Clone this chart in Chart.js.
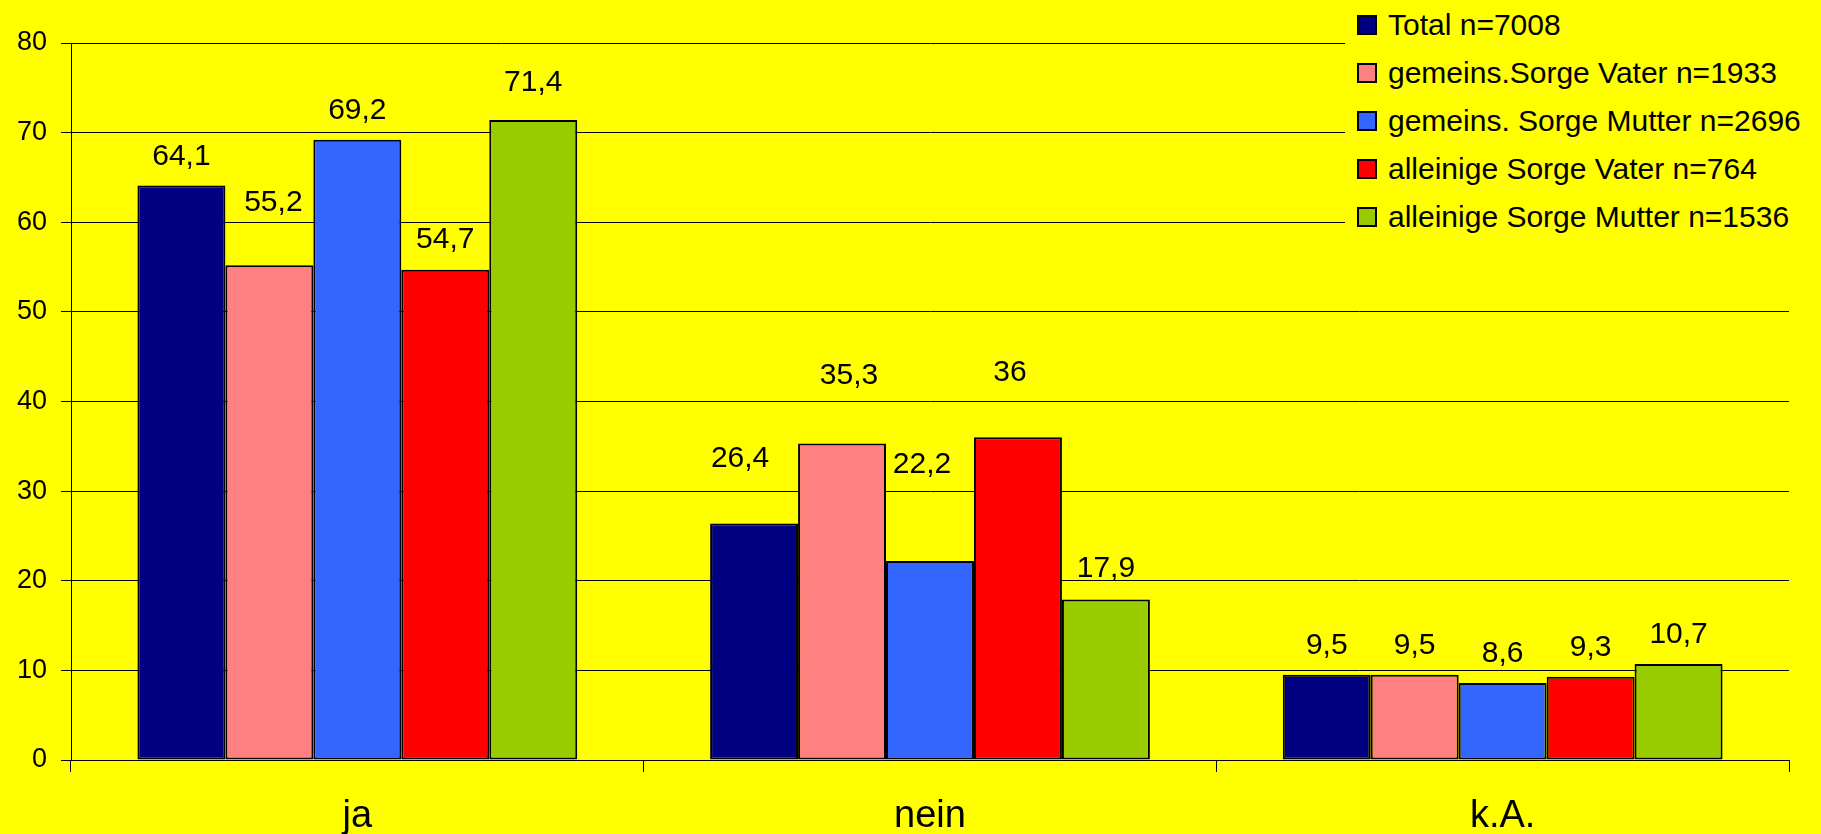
<!DOCTYPE html>
<html>
<head>
<meta charset="utf-8">
<script src="https://cdn.jsdelivr.net/npm/chart.js@4"></script>
<style>
  body { margin: 0; background: #FFFF00; font-family: "Liberation Sans", Arial, sans-serif; }
  #wrap { position: relative; width: 1821px; height: 834px; }
  #legend { position: absolute; left: 1345px; top: 0; width: 476px; height: 245px; background: #FFFF00; padding-top: 1px; box-sizing: border-box; }
  .item { height: 48px; display: flex; align-items: center; font-size: 30px; color: #000; white-space: nowrap; }
  .box { width: 16px; height: 16px; border: 2px solid #000; margin-left: 12px; margin-right: 11px; }
</style>
</head>
<body>
<div id="wrap">
  <canvas id="chart"></canvas>
  <div id="legend"></div>
</div>
<script>
// Kategorien und Werte (Prozent)
const categories = ['ja', 'nein', 'k.A.'];
const seriesNames = [
  'Total n=7008',
  'gemeins.Sorge Vater n=1933',
  'gemeins. Sorge Mutter n=2696',
  'alleinige Sorge Vater n=764',
  'alleinige Sorge Mutter n=1536'
];
const total = [64.1, 26.4, 9.5];
const gemeinsVater = [55.2, 35.3, 9.5];
const gemeinsMutter = [69.2, 22.2, 8.6];
const alleinVater = [54.7, 36, 9.3];
const alleinMutter = [71.4, 17.9, 10.7];
const yTicks = [0, 10, 20, 30, 40, 50, 60, 70, 80];

const colors = ['#000080', '#FF8080', '#3366FF', '#FF0000', '#99CC00'];
const seriesValues = [total, gemeinsVater, gemeinsMutter, alleinVater, alleinMutter];

const fontFamily = '"Liberation Sans", Arial, sans-serif';

// Datenbeschriftungen über den Balken (einige manuell verschoben wie im Original)
const valueLabels = {
  id: 'valueLabels',
  afterDatasetsDraw(chart, args, opts) {
    const ctx = chart.ctx;
    ctx.save();
    ctx.font = '30px ' + fontFamily;
    ctx.fillStyle = '#000';
    ctx.textAlign = 'center';
    ctx.textBaseline = 'middle';
    chart.data.datasets.forEach((ds, i) => {
      const meta = chart.getDatasetMeta(i);
      meta.data.forEach((bar, j) => {
        const lift = opts.lift[i][j];
        const shift = opts.shift[i][j];
        const txt = String(ds.data[j]).replace('.', ',');
        ctx.fillText(txt, bar.x + shift, bar.y - 29 - lift);
      });
    });
    ctx.restore();
  }
};

const chart = new Chart(document.getElementById('chart'), {
  type: 'bar',
  data: {
    labels: categories,
    datasets: seriesValues.map((vals, i) => ({
      label: seriesNames[i],
      data: vals,
      backgroundColor: colors[i],
      borderColor: '#000',
      borderWidth: 2,
      borderSkipped: false,
      barPercentage: 1,
      categoryPercentage: 0.768
    }))
  },
  options: {
    responsive: true,
    maintainAspectRatio: false,
    animation: false,
    layout: { padding: { top: 43, right: 32, left: 0, bottom: 0 } },
    plugins: {
      legend: { display: false },
      tooltip: { enabled: false },
      valueLabels: {
        lift: [[0, 36, 0], [34, 39, 0], [0, 67, 0], [1, 36, 0], [8, 2, 0]],
        shift: [[0, -14, 0], [4, 7, 0], [0, -8, 0], [0, -8, 0], [0, 0, 0]]
      }
    },
    scales: {
      x: {
        grid: { drawOnChartArea: false, drawTicks: true, tickLength: 12, color: '#000', lineWidth: 1 },
        border: { color: '#000', width: 1 },
        ticks: { color: '#000', padding: 22, font: { family: fontFamily, size: 38 } },
        afterFit(scale) { scale.height = 74; }
      },
      y: {
        min: 0,
        max: 80,
        afterBuildTicks(scale) { scale.ticks = yTicks.map(v => ({ value: v })); },
        grid: { color: '#000', lineWidth: 1, tickLength: 10 },
        border: { color: '#000', width: 1 },
        ticks: { color: '#000', padding: 14, font: { family: fontFamily, size: 27 } },
        afterFit(scale) { scale.width = 71; }
      }
    }
  },
  plugins: [valueLabels]
});

// Legende als HTML, überdeckt die Gitterlinien oben rechts
const legendEl = document.getElementById('legend');
seriesNames.forEach((name, i) => {
  const row = document.createElement('div');
  row.className = 'item';
  row.innerHTML = '<span class="box" style="background:' + colors[i] + '"></span>' + name;
  legendEl.appendChild(row);
});
</script>
</body>
</html>
